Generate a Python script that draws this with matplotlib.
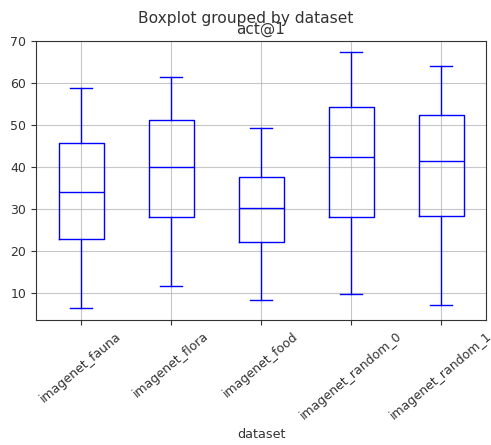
import matplotlib
matplotlib.use('Agg')
import matplotlib.pyplot as plt

datasets = ['imagenet_fauna', 'imagenet_flora', 'imagenet_food',
            'imagenet_random_0', 'imagenet_random_1']
whislo = [6.5, 11.7, 8.3, 9.8, 7.1]
q1 = [22.9, 28.1, 22.2, 28.1, 28.4]
med = [34.0, 39.9, 30.3, 42.3, 41.4]
q3 = [45.7, 51.2, 37.7, 54.4, 52.5]
whishi = [58.7, 61.5, 49.4, 67.3, 64.0]


def main():
    stats = []
    for i, name in enumerate(datasets):
        stats.append({'label': name, 'whislo': whislo[i], 'q1': q1[i],
                      'med': med[i], 'q3': q3[i], 'whishi': whishi[i],
                      'fliers': []})

    fig = plt.figure(figsize=(4.91, 4.45), dpi=100)
    ax = fig.add_axes([36/491, 1 - 320/445, 450/491, 279/445])
    props = dict(color='blue', linewidth=1.0)
    ax.bxp(stats, positions=range(1, 6), widths=0.5, showfliers=False,
           boxprops=props, whiskerprops=props, capprops=props,
           medianprops=props)
    ax.set_xlim(0.5, 5.5)
    ax.set_ylim(3.6, 70)
    ax.grid(True, color='#b0b0b0', linewidth=0.8, alpha=0.7)
    ax.set_axisbelow(True)
    for s in ax.spines.values():
        s.set_color('#333333')
    ax.tick_params(colors='#333333', labelsize=9)
    plt.setp(ax.get_xticklabels(), rotation=40)
    ax.set_xlabel('dataset', color='#333333', fontsize=9.2)
    ax.set_title('act@1', color='#333333', fontsize=11, pad=5.5)
    fig.suptitle('Boxplot grouped by dataset', color='#333333', fontsize=11.2,
                 y=1 - 11/445, va='top')
    fig.savefig('out.png', dpi=100)
    plt.close()


if __name__ == "__main__":
    main()
